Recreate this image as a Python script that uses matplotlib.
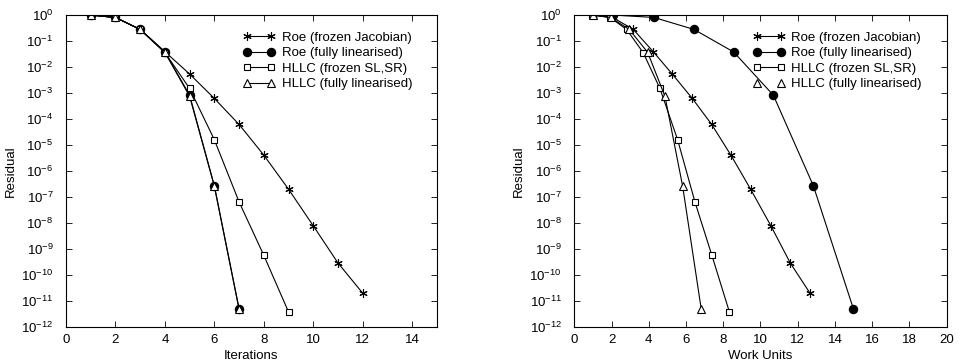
import numpy as np
import matplotlib
matplotlib.use("Agg")
import matplotlib.pyplot as plt

plt.rcParams["font.family"] = ["Liberation Sans", "DejaVu Sans"]
plt.rcParams["mathtext.fontset"] = "custom"
plt.rcParams["mathtext.rm"] = "Liberation Sans"

labels = [
    "Roe (frozen Jacobian)",
    "Roe (fully linearised)",
    "HLLC (frozen SL,SR)",
    "HLLC (fully linearised)",
]

# residual histories
roe_frozen_res = [1.0, 0.81, 0.28, 0.039, 5.4e-3, 6.2e-4, 6.2e-5, 4.1e-6, 2.0e-7, 7.8e-9, 2.9e-10, 2.0e-11]
roe_lin_res = [1.0, 0.81, 0.28, 0.038, 8.3e-4, 2.7e-7, 5.0e-12]
hllc_frozen_res = [1.0, 0.81, 0.28, 0.036, 1.5e-3, 1.6e-5, 6.5e-8, 5.7e-10, 3.8e-12]
hllc_lin_res = [1.0, 0.81, 0.28, 0.037, 7.5e-4, 2.6e-7, 4.8e-12]

# iterations
roe_frozen_it = list(range(1, 13))
roe_lin_it = list(range(1, 8))
hllc_frozen_it = list(range(1, 10))
hllc_lin_it = list(range(1, 8))

# work units
roe_frozen_wu = [1.0, 2.06, 3.17, 4.24, 5.26, 6.34, 7.38, 8.41, 9.47, 10.56, 11.6, 12.66]
roe_lin_wu = [2.1, 4.28, 6.43, 8.56, 10.69, 12.84, 14.99]
hllc_frozen_wu = [0.97, 1.92, 2.81, 3.7, 4.6, 5.55, 6.48, 7.39, 8.33]
hllc_lin_wu = [0.98, 1.95, 2.95, 3.94, 4.87, 5.82, 6.82]

styles = [
    dict(marker=(6, 2, 0), markersize=6, mfc="black", mec="black", mew=0.8),
    dict(marker="o", markersize=5.8, mfc="black", mec="black"),
    dict(marker="s", markersize=4.6, mfc="white", mec="black", mew=0.8),
    dict(marker="^", markersize=6, mfc="white", mec="black", mew=0.8),
]

fig = plt.figure(figsize=(9.66, 3.64), dpi=100)
ax1 = fig.add_axes([0.0683, 0.1016, 0.384, 0.857])
ax2 = fig.add_axes([0.5945, 0.1016, 0.3855, 0.857])

panels = [
    (ax1, [roe_frozen_it, roe_lin_it, hllc_frozen_it, hllc_lin_it], "Iterations", 15, [0, 2, 4, 6, 8, 10, 12, 14]),
    (ax2, [roe_frozen_wu, roe_lin_wu, hllc_frozen_wu, hllc_lin_wu], "Work Units", 20, list(range(0, 21, 2))),
]
res = [roe_frozen_res, roe_lin_res, hllc_frozen_res, hllc_lin_res]

for i, (ax, xs, xlabel, xmax, xt) in enumerate(panels):
    for x, y, lab, st in zip(xs, res, labels, styles):
        ax.plot(x, y, color="black", lw=0.8, label=lab, **st)
    ax.set_yscale("log")
    ax.set_xlim(0, xmax)
    ax.set_ylim(1e-12, 1.0)
    ax.set_xticks(xt)
    ax.set_yticks([10.0 ** -k for k in range(13)])
    ax.yaxis.set_minor_locator(matplotlib.ticker.NullLocator())
    ax.tick_params(direction="in", top=True, right=True, labelsize=9.5, length=4, width=0.6)
    ax.tick_params(axis="y", pad=9)
    ax.tick_params(axis="x", pad=5)
    ax.set_xlabel(xlabel, fontsize=9.5, labelpad=3)
    ax.set_ylabel("Residual", fontsize=9.5, labelpad=3)
    for s in ax.spines.values():
        s.set_linewidth(0.8)
    leg = ax.legend(loc="upper right", frameon=False, fontsize=9.5, numpoints=2,
                    handlelength=2.4, handletextpad=0.5, labelspacing=0.25,
                    borderaxespad=0.5, bbox_to_anchor=(0.965, 0.985))
    if i == 1:
        leg.get_lines()[3].set_linestyle("none")

fig.savefig("out.png", dpi=100)
